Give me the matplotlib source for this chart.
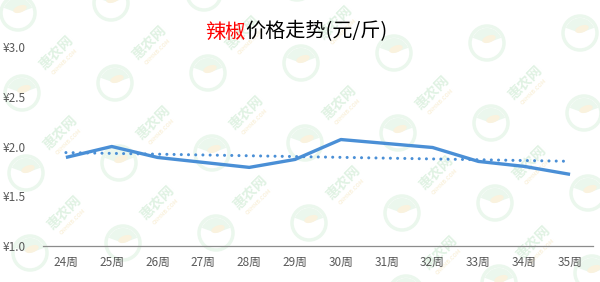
import numpy as np
import matplotlib
matplotlib.use("Agg")
import matplotlib.pyplot as plt
from matplotlib.patches import Circle, Wedge, Ellipse

plt.rcParams['font.family'] = ['Noto Sans CJK SC', 'DejaVu Sans']

weeks = ['24周', '25周', '26周', '27周', '28周', '29周',
         '30周', '31周', '32周', '33周', '34周', '35周']
prices = [1.89, 2.00, 1.89, 1.84, 1.79, 1.87, 2.07, 2.03, 1.99, 1.85, 1.80, 1.72]
y_ticks = [1.0, 1.5, 2.0, 2.5, 3.0]
y_labels = ['¥1.0', '¥1.5', '¥2.0', '¥2.5', '¥3.0']

W, H = 600, 282
fig = plt.figure(figsize=(W / 100, H / 100), dpi=100)

# background watermark layer in pixel coordinates
bg = fig.add_axes([0, 0, 1, 1], zorder=0)
bg.set_xlim(0, W)
bg.set_ylim(H, 0)
bg.axis('off')

green = (0.88, 0.95, 0.89)
green_lt = (0.92, 0.97, 0.93)
yellow = (0.98, 0.95, 0.87)
for i in range(-2, 9):
    for j in range(-2, 5):
        tx = 60 + 93 * i + 4 * j
        ty = 133 - 10 * i + 80 * j
        if 20 < tx < W - 20 and 20 < ty < H - 20:
            bg.text(tx, ty, '惠农网', rotation=45, fontsize=10, color=green,
                    ha='center', va='center', fontweight='bold', clip_on=True)
            bg.text(tx + 9, ty + 9, 'CNHNB.COM', rotation=45, fontsize=4,
                    color=yellow, ha='center', va='center', fontweight='bold',
                    clip_on=True)
        cx, cy = tx - 38, ty - 40
        if -20 < cx < W + 20 and -20 < cy < H + 20:
            bg.add_patch(Circle((cx, cy), 17, facecolor='none',
                                edgecolor=green_lt, lw=2.5))
            bg.add_patch(Wedge((cx, cy), 15, 200, 340, facecolor=green_lt,
                               edgecolor='none'))
            bg.add_patch(Ellipse((cx + 2, cy - 4), 14, 7, angle=-20,
                                 facecolor=yellow, edgecolor='none'))

# main chart
ax = fig.add_axes([43 / W, 1 - 246 / H, 550 / W, 199 / H], zorder=1)
ax.patch.set_alpha(0)
x = np.arange(len(weeks))
ax.plot(x, prices, color='#4a8fd6', lw=2.4, solid_joinstyle='round',
        solid_capstyle='butt', zorder=3)

# linear trend line
coef = np.polyfit(x, prices, 1)
trend = np.polyval(coef, x)
ax.plot(x, trend, color='#4a8fd6', lw=2.2,
        linestyle=(0, (0.01, 2.35)), dash_capstyle='round', zorder=2)

ax.set_xlim(-0.5, len(weeks) - 0.5)
ax.set_ylim(1.0, 3.0)
ax.set_xticks(x)
ax.set_xticklabels(weeks)
ax.set_yticks(y_ticks)
ax.set_yticklabels(y_labels)
for lab in ax.get_yticklabels():
    lab.set_horizontalalignment('left')
ax.tick_params(axis='y', length=0, pad=29, labelsize=8.5, labelcolor='#595959')
ax.tick_params(axis='x', length=0, pad=7, labelsize=8.5, labelcolor='#595959')
for s in ['top', 'right', 'left']:
    ax.spines[s].set_visible(False)
ax.spines['bottom'].set_color('#8c8c8c')
ax.spines['bottom'].set_linewidth(0.9)

# title with the product name in red
fig.text(245 / W, 1 - 32 / H, '辣椒', color='#ff0000', fontsize=14.5,
         ha='right', va='center')
fig.text(245 / W, 1 - 32 / H, '价格走势(元/斤)', color='#000000', fontsize=14.5,
         ha='left', va='center')

fig.savefig('out.png', dpi=100)
